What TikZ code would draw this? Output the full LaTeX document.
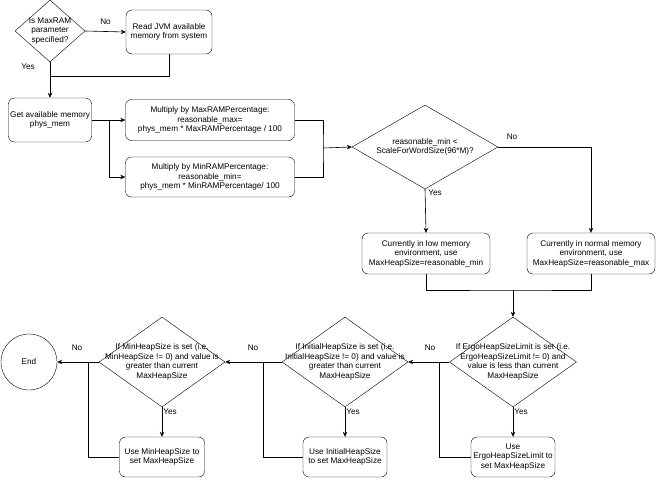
\documentclass[tikz,border=0pt]{standalone}
\usepackage{fontspec}
\setmainfont{Liberation Sans}
\usetikzlibrary{shapes.geometric,arrows.meta}

\begin{document}
\begin{tikzpicture}[
    x=1pt, y=-1pt,
    every node/.style={
        font=\fontsize{8.2}{9.6}\selectfont
    },
    box/.style={
        draw,
        rounded corners=6pt,
        align=center,
        inner sep=0pt,
        minimum height=41pt
    },
    decision/.style={
        draw,
        diamond,
        inner sep=0pt
    },
    dtext/.style={
        align=center
    },
    arrow/.style={
        -{Stealth[length=5pt,width=4.5pt]},
        line width=0.6pt
    },
    link/.style={
        line width=0.6pt
    }
]
\useasboundingbox (0,0) rectangle (660,479);

% MaxRAM check
\node[decision, minimum width=70pt, minimum height=62pt,
    label={[dtext]center:Is MaxRAM\\parameter\\specified?}] (askram) at (50,31) {};

\node[box, minimum width=86pt, minimum height=44pt] (readjvm) at (169,32)
{Read JVM available\\memory from system};

\node[box, minimum width=83pt, minimum height=44pt] (getmem) at (50,120)
{Get available memory\\phys\_mem};

% percentages
\node[box, minimum width=169pt] (maxpct) at (210,120)
{Multiply by MaxRAMPercentage:\\reasonable\_max=\\phys\_mem * MaxRAMPercentage / 100};

\node[box, minimum width=169pt, minimum height=40pt] (minpct) at (210,177)
{Multiply by MinRAMPercentage:\\reasonable\_min=\\phys\_mem * MinRAMPercentage/ 100};

% low memory check
\node[decision, minimum width=146pt, minimum height=84pt,
    label={[dtext]center:reasonable\_min <\\ScaleForWordSize(96*M)?}] (asklow) at (425,147) {};

\node[box, minimum width=128pt] (lowenv) at (426,253.5)
{Currently in low memory\\environment, use\\MaxHeapSize=reasonable\_min};

\node[box, minimum width=128pt] (normenv) at (591,253.5)
{Currently in normal memory\\environment, use\\MaxHeapSize=reasonable\_max};

% heap size checks
\node[decision, minimum width=127pt, minimum height=90pt,
    label={[dtext]center:If ErgoHeapSizeLimit is set (i.e.\\ErgoHeapSizeLimit != 0) and\\value is less than current\\MaxHeapSize}] (askergo) at (513,362) {};

\node[box, minimum width=84pt, minimum height=40pt] (useergo) at (513,457)
{Use\\ErgoHeapSizeLimit to\\set MaxHeapSize};

\node[decision, minimum width=126pt, minimum height=90pt,
    label={[dtext]center:If InitialHeapSize is set (i.e.\\InitialHeapSize != 0) and value is\\greater than current\\MaxHeapSize}] (askinit) at (345,362) {};

\node[box, minimum width=84pt, minimum height=40pt] (useinit) at (345,457)
{Use InitialHeapSize\\to set MaxHeapSize};

\node[decision, minimum width=126pt, minimum height=90pt,
    label={[dtext]center:If MinHeapSize is set (i.e.\\MinHeapSize != 0) and value is\\greater than current\\MaxHeapSize}] (askmin) at (162,362) {};

\node[box, minimum width=85pt, minimum height=40pt] (usemin) at (162,457)
{Use MinHeapSize to\\set MaxHeapSize};

% End
\node[draw, circle, minimum size=56pt, inner sep=0pt] (finish) at (29,362) {End};

% helper points
\coordinate (split1) at (109,120);
\coordinate (merge1) at (323,148);
\coordinate (merge2) at (513,290);
\coordinate (join0) at (50,76);
\coordinate (join1) at (439,362);
\coordinate (join2) at (263,362);
\coordinate (join3) at (88,362);

% Connections
\draw[arrow] (askram.east) -- (readjvm.west)
    node[midway, above=3pt] (noram) {No};
\draw[link] (readjvm.south) |- (join0);
\draw[arrow] (askram.south) -- (getmem.north);
\node (yesram) at (28,67) {Yes};

\draw[arrow] (getmem.east) -- (maxpct.west);
\draw[arrow] (split1) |- (minpct.west);

\draw[link] (maxpct.east) -| (merge1) |- (minpct.east);
\draw[arrow] (merge1) -- (asklow.west);

\draw[arrow] (asklow.east) -| (normenv.north);
\node (nolow) at (512,137) {No};
\draw[arrow] (asklow.south) -- (lowenv.north);
\node (yeslow) at (435,193) {Yes};

\draw[link] (lowenv.south) |- (merge2) -| (normenv.south);
\draw[arrow] (merge2) -- (askergo.north);

\draw[arrow] (askergo.south) -- (useergo.north);
\node (yesergo) at (521,412) {Yes};
\draw[arrow] (askergo.west) -- (askinit.east);
\node (noergo) at (430,348) {No};
\draw[link] (useergo.west) -| (join1);

\draw[arrow] (askinit.south) -- (useinit.north);
\node (yesinit) at (353,412) {Yes};
\draw[arrow] (askinit.west) -- (askmin.east);
\node (noinit) at (253,348) {No};
\draw[link] (useinit.west) -| (join2);

\draw[arrow] (askmin.south) -- (usemin.north);
\node (yesmin) at (170,412) {Yes};
\draw[arrow] (askmin.west) -- (finish.east);
\node (nomin) at (77,348) {No};
\draw[link] (usemin.west) -| (join3);

\end{tikzpicture}
\end{document}
